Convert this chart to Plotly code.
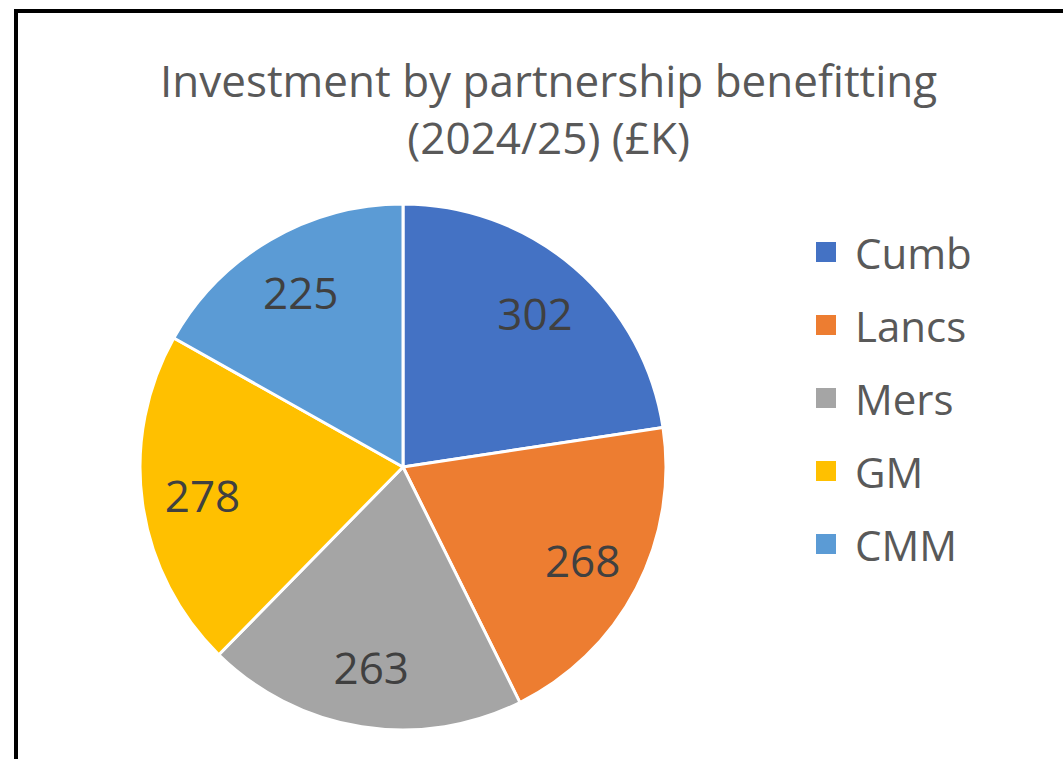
import plotly.graph_objects as go

labels = ["Cumb", "Lancs", "Mers", "GM", "CMM"]
values = [302, 268, 263, 278, 225]
colors = ["#4472C4", "#ED7D31", "#A5A5A5", "#FFC000", "#5B9BD5"]
title_lines = ["Investment by partnership benefitting", "(2024/25) (£K)"]

W, H = 1063, 759
FONT = "Open Sans"

def px(x):
    return x / W

def py(y):
    return 1 - y / H

dom = dict(x=[px(140), px(666)], y=[py(730), py(204)])

fig = go.Figure()
# filled slices
fig.add_trace(go.Pie(
    labels=labels, values=values,
    marker=dict(colors=colors, line=dict(color="white", width=3)),
    sort=False, direction="clockwise", rotation=0,
    textinfo="none", domain=dom,
    showlegend=False, hoverinfo="label+value",
))
# transparent ring carrying the value labels (places them further out, like Excel)
fig.add_trace(go.Pie(
    labels=labels, values=values, hole=0.54,
    marker=dict(colors=["rgba(0,0,0,0)"] * len(values), line=dict(width=0)),
    sort=False, direction="clockwise", rotation=0,
    textinfo="value", textposition="inside",
    insidetextorientation="horizontal",
    textfont=dict(family=FONT, size=44, color="#404040"),
    domain=dom, showlegend=False, hoverinfo="skip",
))

shapes = [
    dict(type="line", xref="paper", yref="paper", x0=px(16), x1=1.01, y0=py(11), y1=py(11),
         line=dict(color="black", width=4)),
    dict(type="line", xref="paper", yref="paper", x0=px(16), x1=px(16), y0=py(9), y1=-0.01,
         line=dict(color="black", width=4)),
]
annotations = [
    dict(text="<br>".join(title_lines), x=px(548), y=py(108), xref="paper", yref="paper",
         xanchor="center", yanchor="middle", showarrow=False, align="center",
         font=dict(family=FONT, size=44, color="#595959")),
]
y0, step = 252, 73
for i, (lab, col) in enumerate(zip(labels, colors)):
    yc = y0 + step * i
    shapes.append(dict(type="rect", xref="paper", yref="paper",
                       x0=px(816), x1=px(836), y0=py(yc + 10), y1=py(yc - 10),
                       fillcolor=col, line=dict(width=0)))
    annotations.append(dict(text=lab, x=px(853), y=py(yc), xref="paper", yref="paper",
                            xanchor="left", yanchor="middle", showarrow=False,
                            font=dict(family=FONT, size=42, color="#595959")))

fig.update_layout(
    width=W, height=H, margin=dict(l=0, r=0, t=0, b=0),
    paper_bgcolor="white", plot_bgcolor="white",
    shapes=shapes, annotations=annotations,
)
fig.write_html("out.html",
               config={"displayModeBar": False},
               post_script="document.body.style.margin='0';"
                           "document.documentElement.style.overflow='hidden';")
